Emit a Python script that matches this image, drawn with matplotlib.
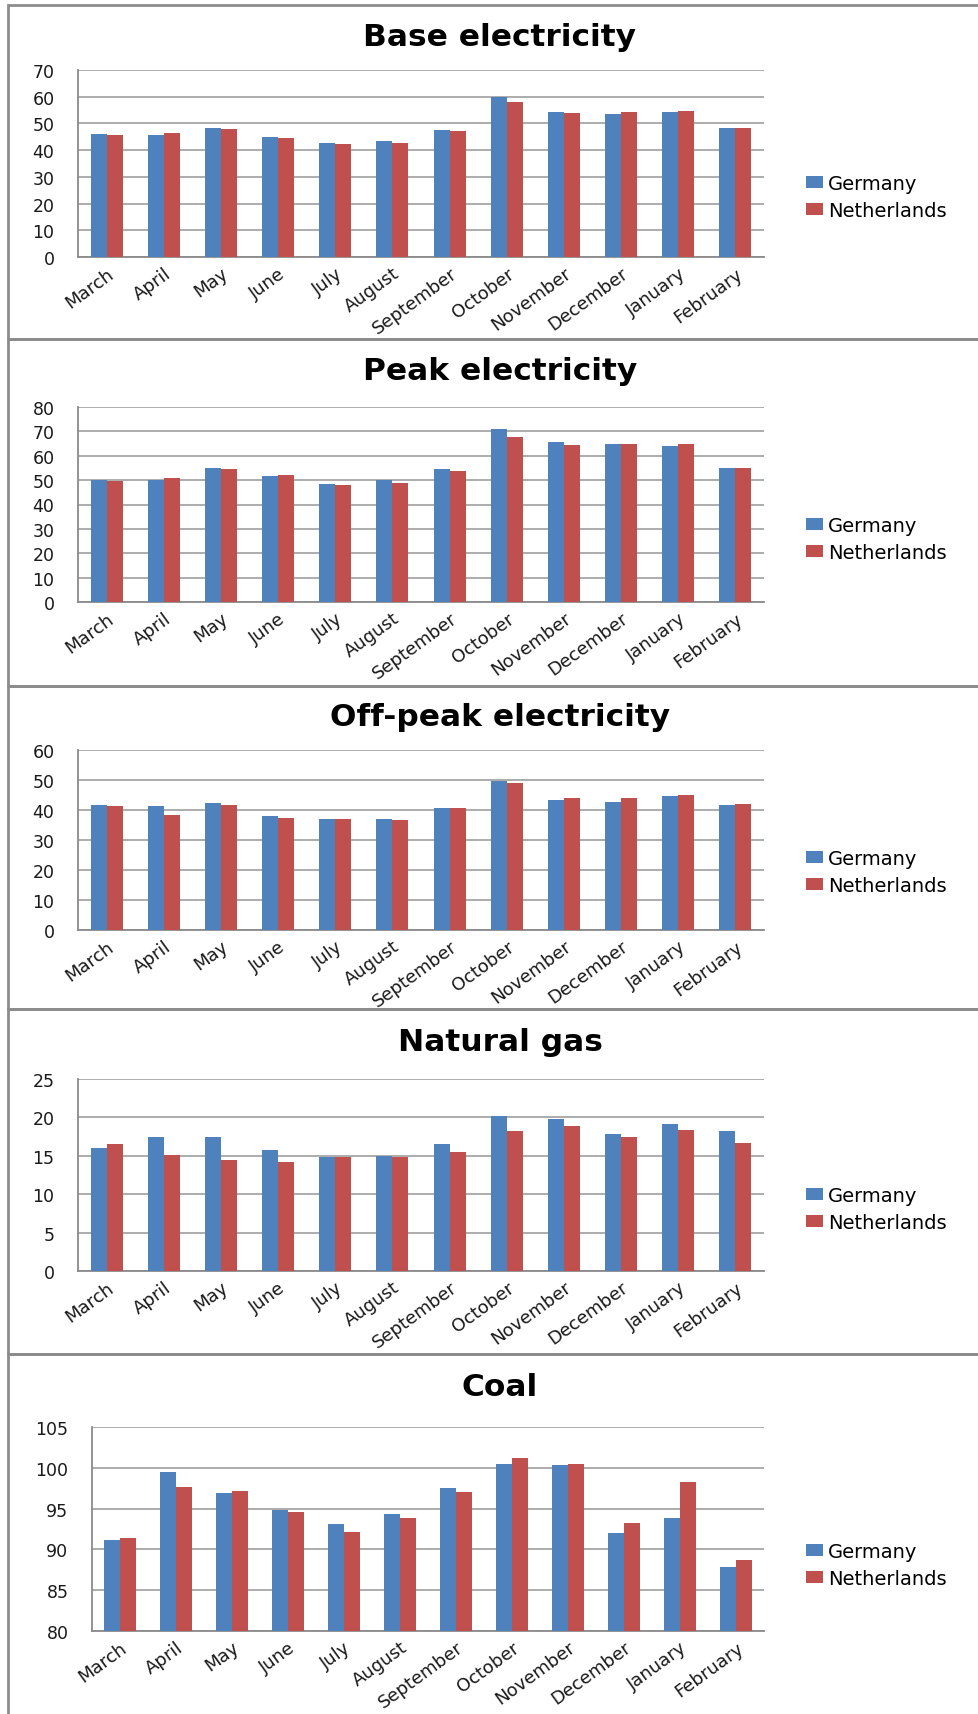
import matplotlib
matplotlib.use("Agg")
import matplotlib.pyplot as plt
from matplotlib.patches import Rectangle
import numpy as np

months = ["March", "April", "May", "June", "July", "August", "September",
          "October", "November", "December", "January", "February"]
series_names = ["Germany", "Netherlands"]

base_de = [46.0, 45.7, 48.3, 44.8, 42.6, 43.4, 47.5, 59.9, 54.2, 53.7, 54.4, 48.3]
base_nl = [45.7, 46.4, 48.0, 44.4, 42.3, 42.6, 47.2, 58.0, 53.9, 54.4, 54.7, 48.3]

peak_de = [50.2, 50.2, 54.9, 51.7, 48.4, 50.1, 54.5, 70.9, 65.6, 64.9, 64.1, 55.0]
peak_nl = [49.8, 50.8, 54.6, 52.1, 47.9, 48.9, 53.8, 67.5, 64.4, 64.9, 64.9, 55.0]

offpeak_de = [41.7, 41.2, 42.2, 38.1, 36.9, 36.9, 40.8, 49.6, 43.2, 42.7, 44.8, 41.7]
offpeak_nl = [41.4, 38.3, 41.7, 37.4, 36.9, 36.6, 40.6, 49.1, 43.9, 43.9, 45.0, 42.0]

gas_de = [16.05, 17.4, 17.45, 15.7, 14.85, 15.0, 16.6, 20.2, 19.75, 17.9, 19.2, 18.2]
gas_nl = [16.5, 15.1, 14.45, 14.2, 14.85, 14.85, 15.5, 18.2, 18.85, 17.4, 18.4, 16.7]

coal_de = [91.2, 99.5, 96.9, 94.8, 93.1, 94.3, 97.5, 100.5, 100.4, 92.05, 93.9, 87.9]
coal_nl = [91.35, 97.7, 97.2, 94.6, 92.1, 93.9, 97.0, 101.2, 100.5, 93.2, 98.3, 88.7]

titles = ["Base electricity", "Peak electricity", "Off-peak electricity",
          "Natural gas", "Coal"]
data = [(base_de, base_nl), (peak_de, peak_nl), (offpeak_de, offpeak_nl),
        (gas_de, gas_nl), (coal_de, coal_nl)]
y_ranges = [(0, 70, 10), (0, 80, 10), (0, 60, 10), (0, 25, 5), (80, 105, 5)]

W, H = 979, 1715
# pixel boxes: panel frame (top, bottom), axes (left, top, right, bottom),
# title centre y, legend centre y
frames = [(6, 340), (340, 687), (687, 1010), (1010, 1355), (1355, 1730)]
axes_px = [(78, 71, 764, 258), (78, 408, 764, 603), (78, 751, 764, 931),
           (78, 1080, 764, 1272), (92, 1428, 764, 1632)]
title_y = [37, 372, 717, 1043, 1388]
legend_y = [198, 540, 873, 1210, 1566]

blue = "#4F81BD"
red = "#C0504D"
grid_col = "#A6A6A6"
frame_col = "#8C8C8C"

fig = plt.figure(figsize=(W / 100, H / 100), dpi=100)

for top, bottom in frames:
    fig.patches.append(Rectangle((8 / W, 1 - bottom / H), (990 - 8) / W,
                                 (bottom - top) / H, transform=fig.transFigure,
                                 fill=False, edgecolor=frame_col, lw=2))

x = np.arange(len(months))
w = 0.28

for i in range(5):
    l, t, r, b = axes_px[i]
    ax = fig.add_axes([l / W, 1 - b / H, (r - l) / W, (b - t) / H])
    de, nl = data[i]
    lo, hi, step = y_ranges[i]
    ax.bar(x - w / 2, np.array(de) - lo, w, bottom=lo, color=blue,
           label=series_names[0], zorder=3)
    ax.bar(x + w / 2, np.array(nl) - lo, w, bottom=lo, color=red,
           label=series_names[1], zorder=3)
    ax.set_xlim(-0.5, len(months) - 0.5)
    ax.set_ylim(lo, hi)
    ax.set_yticks(np.arange(lo, hi + 1, step))
    ax.yaxis.grid(True, color=grid_col, lw=1.3, zorder=0)
    ax.set_axisbelow(True)
    for s in ["top", "right"]:
        ax.spines[s].set_visible(False)
    for s in ["left", "bottom"]:
        ax.spines[s].set_color("#8A8A8A")
        ax.spines[s].set_linewidth(1.3)
    ax.tick_params(axis="both", length=0, colors="#1a1a1a")
    ax.tick_params(axis="y", pad=17, labelsize=12.5)
    ax.set_xticks(x)
    ax.set_xticklabels(months, rotation=36, ha="right",
                       rotation_mode="anchor", fontsize=13)
    ax.tick_params(axis="x", pad=5)

    fig.text(500 / W, 1 - title_y[i] / H, titles[i], fontsize=22.5,
             fontweight="bold", ha="center", va="center")

    ax.legend(loc="center left", bbox_to_anchor=(806 / W, 1 - legend_y[i] / H),
              bbox_transform=fig.transFigure, frameon=False, fontsize=14,
              borderpad=0, borderaxespad=0, handlelength=0.85,
              handleheight=0.55, handletextpad=0.3, labelspacing=0.4)

fig.savefig("out.png", dpi=100, facecolor="white")
